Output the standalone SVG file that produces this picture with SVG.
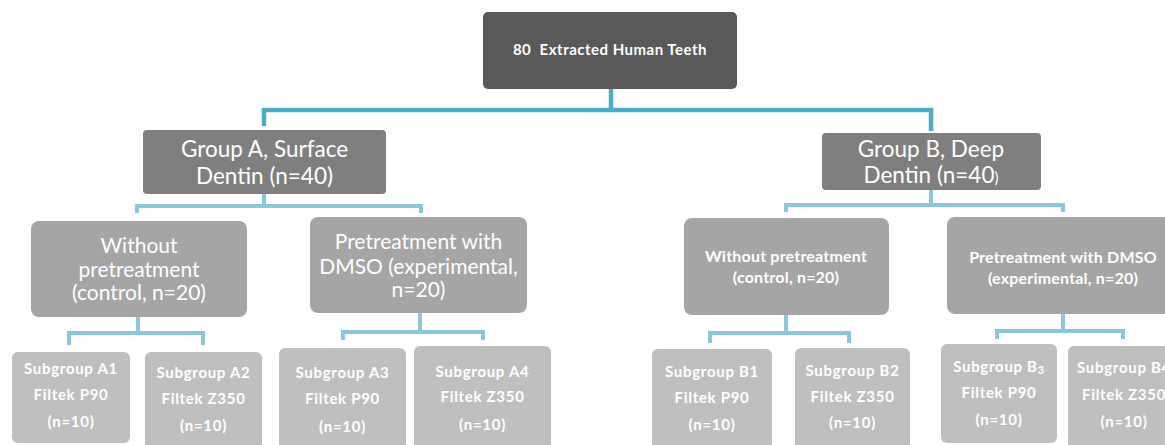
<svg xmlns="http://www.w3.org/2000/svg" width="1165" height="445" viewBox="0 0 1165 445">
<style>
  text { font-family: Lato, "Open Sans", "Liberation Sans", sans-serif; fill: #ffffff; text-anchor: middle; }
  .root { fill: #595959; }
  .g1 { fill: #7f7f7f; }
  .g2 { fill: #a5a5a5; }
  .g3 { fill: #bfbfbf; }
  .t1 { font-size: 15px; font-weight: bold; letter-spacing: 0.5px; }
  .t2 { font-size: 22.5px; }
  .t3 { font-size: 21px; }
  .t3b { font-size: 16px; font-weight: bold; letter-spacing: 0.2px; }
  .t4 { font-size: 15px; font-weight: bold; letter-spacing: 0.7px; }
  .c1 { fill: none; stroke: #4bacc6; stroke-width: 4.5; }
  .c2 { fill: none; stroke: #8cc6da; stroke-width: 4; }
</style>
<rect width="1165" height="445" fill="#ffffff"/>
<g id="connectors">
  <path class="c1" d="M611,89 V110 M264,126 V110 H931 V131"/>
  <path class="c2" d="M264,194 V206 M137,213 V206 H421 V213"/>
  <path class="c2" d="M931,190 V205 M786,212 V205 H1063 V212"/>
  <path class="c2" d="M138,317 V333 M69,345 V333 H203 V345"/>
  <path class="c2" d="M420,313 V332 M343,340 V332 H483 V340"/>
  <path class="c2" d="M786,315 V333 M710,343 V333 H849 V343"/>
  <path class="c2" d="M1063,314 V331 M997,339 V331 H1123 V339"/>
</g>
<g id="root">
  <rect class="root" x="483" y="12" width="254" height="77" rx="5"/>
  <text class="t1" x="610" y="55" xml:space="preserve">80  Extracted Human Teeth</text>
</g>
<g id="groupA">
  <rect class="g1" x="143" y="130" width="243" height="64" rx="4"/>
  <text class="t2" x="264.5" y="157">Group A, Surface</text>
  <text class="t2" x="264.5" y="184">Dentin (n=40)</text>
</g>
<g id="groupB">
  <rect class="g1" x="822" y="133" width="219" height="57" rx="4"/>
  <text class="t2" x="931" y="157">Group B, Deep</text>
  <text class="t2" x="931" y="183">Dentin (n=40<tspan font-size="15">)</tspan></text>
</g>
<g id="A-control">
  <rect class="g2" x="31" y="221" width="216" height="96" rx="8"/>
  <text class="t3" x="139" y="253">Without</text>
  <text class="t3" x="139" y="277">pretreatment</text>
  <text class="t3" x="139" y="300">(control, n=20)</text>
</g>
<g id="A-dmso">
  <rect class="g2" x="310" y="217" width="217" height="96" rx="8"/>
  <text class="t3" x="418.5" y="249">Pretreatment with</text>
  <text class="t3" x="418.5" y="274">DMSO (experimental,</text>
  <text class="t3" x="418.5" y="297">n=20)</text>
</g>
<g id="B-control">
  <rect class="g2" x="684" y="218" width="205" height="97" rx="8"/>
  <text class="t3b" x="786" y="262">Without pretreatment</text>
  <text class="t3b" x="786" y="283">(control, n=20)</text>
</g>
<g id="B-dmso">
  <rect class="g2" x="947" y="217" width="233" height="97" rx="8"/>
  <text class="t3b" x="1063" y="263">Pretreatment with DMSO</text>
  <text class="t3b" x="1063" y="284">(experimental, n=20)</text>
</g>
<g id="A1">
  <rect class="g3" x="12" y="352" width="118" height="91" rx="6"/>
  <text class="t4" x="71" y="374">Subgroup A1</text>
  <text class="t4" x="71" y="400">Filtek P90</text>
  <text class="t4" x="71" y="427">(n=10)</text>
</g>
<g id="A2">
  <rect class="g3" x="145" y="352" width="117" height="100" rx="6"/>
  <text class="t4" x="203.5" y="378">Subgroup A2</text>
  <text class="t4" x="203.5" y="404">Filtek Z350</text>
  <text class="t4" x="203.5" y="431">(n=10)</text>
</g>
<g id="A3">
  <rect class="g3" x="279" y="348" width="127" height="104" rx="6"/>
  <text class="t4" x="342.5" y="378">Subgroup A3</text>
  <text class="t4" x="342.5" y="404">Filtek P90</text>
  <text class="t4" x="342.5" y="432">(n=10)</text>
</g>
<g id="A4">
  <rect class="g3" x="414" y="346" width="137" height="106" rx="6"/>
  <text class="t4" x="482.5" y="377">Subgroup A4</text>
  <text class="t4" x="482.5" y="402">Filtek Z350</text>
  <text class="t4" x="482.5" y="430">(n=10)</text>
</g>
<g id="B1">
  <rect class="g3" x="652" y="349" width="120" height="103" rx="6"/>
  <text class="t4" x="712" y="377">Subgroup B1</text>
  <text class="t4" x="712" y="403">Filtek P90</text>
  <text class="t4" x="712" y="430">(n=10)</text>
</g>
<g id="B2">
  <rect class="g3" x="795" y="348" width="115" height="104" rx="6"/>
  <text class="t4" x="852.5" y="376">Subgroup B2</text>
  <text class="t4" x="852.5" y="402">Filtek Z350</text>
  <text class="t4" x="852.5" y="428">(n=10)</text>
</g>
<g id="B3">
  <rect class="g3" x="941" y="344" width="116" height="99" rx="6"/>
  <text class="t4" x="999" y="372">Subgroup B<tspan font-size="11" dy="2">3</tspan></text>
  <text class="t4" x="999" y="398">Filtek P90</text>
  <text class="t4" x="999" y="425">(n=10)</text>
</g>
<g id="B4">
  <rect class="g3" x="1068" y="346" width="112" height="106" rx="6"/>
  <text class="t4" x="1124" y="373">Subgroup B4</text>
  <text class="t4" x="1124" y="400">Filtek Z350</text>
  <text class="t4" x="1124" y="427">(n=10)</text>
</g>
</svg>
